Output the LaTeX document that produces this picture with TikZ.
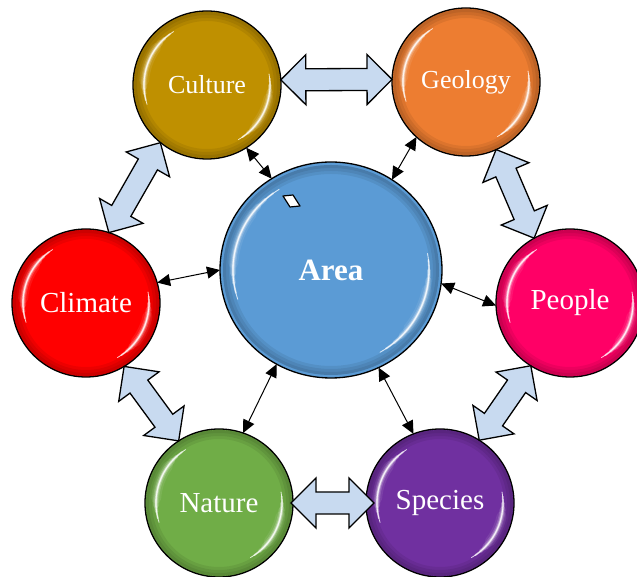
\documentclass[tikz,border=0pt]{standalone}
\usepackage{fontspec}
\setmainfont{Liberation Serif}
\usetikzlibrary{arrows.meta,calc,shapes.geometric}

\definecolor{culturegold}{RGB}{191,144,0}
\definecolor{geologyorange}{RGB}{237,125,49}
\definecolor{climatered}{RGB}{255,0,0}
\definecolor{peoplepink}{RGB}{255,0,102}
\definecolor{naturegreen}{RGB}{112,173,71}
\definecolor{speciespurple}{RGB}{112,48,160}
\definecolor{areablue}{RGB}{91,155,213}
\definecolor{arrowblue}{RGB}{200,218,240}

\tikzset{
  bubble/.style={circle, draw=black, line width=1.3pt, minimum size=148pt,
    inner sep=0pt, outer sep=0pt, text=white,
    font=\fontsize{29}{29}\selectfont},
  smallbubble/.style={bubble, font=\fontsize{26}{26}\selectfont},
  hubbubble/.style={ellipse, draw=black, line width=1.3pt, minimum width=222pt,
    minimum height=216pt, inner sep=0pt, outer sep=0pt, text=white,
    font=\bfseries\fontsize{31}{31}\selectfont},
  link/.style={line width=1pt,
    {Triangle[length=13pt,width=12pt]}-{Triangle[length=13pt,width=12pt]}},
  blockarrow/.style={draw=black, line width=1.3pt, fill=arrowblue,
    line join=miter},
  shine/.style={white, line cap=round},
  rim/.style={black, opacity=0.07},
}

% soft glossy highlights and inner rim shade of a bubble
% (#1 node, #2 x radius, #3 y radius of the highlight arcs)
\newcommand\glossy[3]{%
  \foreach \w/\o in {3/1, 6/1, 9/1} {
    \draw[rim, line width=\w pt] (#1) ellipse[x radius=#2+10pt-0.5*\w pt,
      y radius=#3+10pt-0.5*\w pt];
  }
  \foreach \w/\o/\s in {10/0.08/0, 6/0.16/6, 3.5/0.3/12, 1.8/0.55/18, 0.8/0.8/22} {
    \draw[shine, opacity=\o, line width=\w pt]
      ($(#1)+({144-\s}:#2 and #3)$)
      arc[start angle={144-\s}, end angle={176+\s}, x radius=#2, y radius=#3];
    \draw[shine, opacity=\o, line width=\w pt]
      ($(#1)+({-38-\s}:#2 and #3)$)
      arc[start angle={-38-\s}, end angle={-12+\s}, x radius=#2, y radius=#3];
  }%
}

% broad double-headed block arrow between two border points
\newcommand\dblarrow[2]{%
  \path[blockarrow] let \p1=(#1), \p2=(#2),
      \n1={atan2(\y2-\y1,\x2-\x1)},
      \n2={veclen(\x2-\x1,\y2-\y1)},
      \n3={\n2-50pt}
    in (\p1)
    -- ++({\n1+45}:35.36pt)
    -- ++({\n1-90}:14pt)
    -- ++({\n1}:\n3)
    -- ++({\n1+90}:14pt)
    -- ++({\n1-45}:35.36pt)
    -- ++({\n1-135}:35.36pt)
    -- ++({\n1+90}:14pt)
    -- ++({\n1+180}:\n3)
    -- ++({\n1-90}:14pt)
    -- cycle;%
}

\begin{document}
\begin{tikzpicture}[x=1pt,y=1pt]
  \useasboundingbox (0,0) rectangle (637,577);

  % bubbles
  \node[hubbubble, fill=areablue] (area) at (331,307) {Area};
  \node[smallbubble, fill=culturegold] (cul) at (207,492) {Culture};
  \node[smallbubble, fill=geologyorange] (geo) at (466,495) {Geology};
  \node[bubble, fill=climatered] (cli) at (86,274) {Climate};
  \node[bubble, fill=peoplepink] (peo) at (570,274) {People};
  \node[bubble, fill=naturegreen] (nat) at (219,74) {Nature};
  \node[bubble, fill=speciespurple] (spe) at (440,74) {Species};

  \glossy{area}{98pt}{95pt}
  \foreach \b in {cul,geo,cli,peo,nat,spe} { \glossy{\b}{63pt}{63pt} }

  % small mark on the hub
  \draw[line width=1.2pt, fill=white, line join=round]
    (283,381) -- (293,382) -- (300,371) -- (290,370) -- cycle;

  % links from the hub to each bubble
  \draw[link] (cul.-58) -- (area.123.5);
  \draw[link] (geo.228) -- (area.56);
  \draw[link] (cli.16) -- (area.180);
  \draw[link] (area.-7) -- (peo.182);
  \draw[link] (nat.71) -- (area.240);
  \draw[link] (spe.111) -- (area.-64);

  % block arrows around the ring
  \dblarrow{cul.4}{geo.178}
  \dblarrow{cli.72}{cul.231}
  \dblarrow{geo.-66}{peo.119}
  \dblarrow{cli.-59}{nat.123}
  \dblarrow{peo.238}{spe.58}
  \dblarrow{[xshift=-2pt]nat.0}{[xshift=8pt]spe.180}
\end{tikzpicture}
\end{document}
